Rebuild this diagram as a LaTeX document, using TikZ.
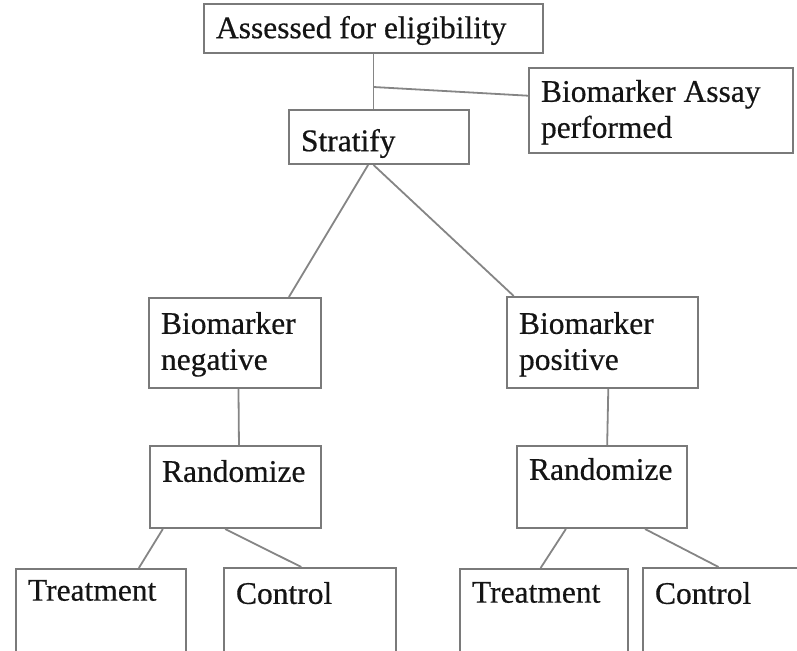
\documentclass[tikz,border=0pt]{standalone}
\usepackage{fontspec}
\setmainfont{Liberation Serif}
\newfontfamily\labelfont{Liberation Serif}[FakeBold=0.5]
\usetikzlibrary{calc}

% text block of a box: width, height, top padding, contents
\newcommand\boxtext[4]{\parbox[c][#2][t]{#1}{\vspace*{#3}\raggedright #4}}

\tikzset{
  box/.style={draw=black!52, line width=2pt, inner xsep=12pt, inner ysep=0pt,
              anchor=north west, text=black!92, font=\labelfont\fontsize{31.5}{36}\selectfont},
  link/.style={draw=black!48, line width=1.8pt},
}

\begin{document}
\begin{tikzpicture}[x=1pt,y=-1pt]
\useasboundingbox (0,0) rectangle (797,650);
\clip (0,0) rectangle (797,650);

% boxes
\node[box] (A)  at (203,3)   {\boxtext{315pt}{49pt}{12pt}{Assessed for eligibility}};
\node[box] (B)  at (528,67)  {\boxtext{240pt}{85pt}{12pt}{Biomarker Assay\\performed}};
\node[box] (S)  at (288,109) {\boxtext{156pt}{54pt}{19pt}{Stratify}};
\node[box] (N)  at (148,297) {\boxtext{148pt}{90pt}{14pt}{Biomarker\\negative}};
\node[box] (P)  at (506,296) {\boxtext{167pt}{91pt}{15pt}{Biomarker\\positive}};
\node[box] (RL) at (149,445) {\boxtext{147pt}{82pt}{14pt}{Randomize}};
\node[box] (RR) at (516,445) {\boxtext{146pt}{82pt}{12pt}{Randomize}};
\node[box] (TL) at (15,568)  {\boxtext{146pt}{100pt}{11pt}{Treatment}};
\node[box] (CL) at (223,567) {\boxtext{148pt}{100pt}{14pt}{Control}};
\node[box] (TR) at (459,568) {\boxtext{144pt}{100pt}{13pt}{Treatment}};
\node[box] (CR) at (642,567) {\boxtext{144pt}{100pt}{14pt}{Control}};

% connectors
\coordinate (j) at ($(A.south)!0.6!(A.south |- S.north)$);
\draw[link] (A.south) -- (A.south |- S.north);
\draw[link] (j) -- ($(B.north west)!0.33!(B.south west)$);

\draw[link] ($(S.south west)!0.44!(S.south east)$) -- ($(N.north west)!0.81!(N.north east)$);
\draw[link] ($(S.south west)!0.47!(S.south east)$) -- ($(P.north west)!0.04!(P.north east)$);

\draw[link] ($(N.south west)!0.52!(N.south east)$) -- ($(RL.north west)!0.52!(RL.north east)$);
\draw[link] ($(P.south west)!0.53!(P.south east)$) -- ($(RR.north west)!0.53!(RR.north east)$);

\draw[link] ($(RL.south west)!0.08!(RL.south east)$) -- ($(TL.north west)!0.72!(TL.north east)$);
\draw[link] ($(RL.south west)!0.44!(RL.south east)$) -- ($(CL.north west)!0.45!(CL.north east)$);
\draw[link] ($(RR.south west)!0.29!(RR.south east)$) -- ($(TR.north west)!0.48!(TR.north east)$);
\draw[link] ($(RR.south west)!0.75!(RR.south east)$) -- ($(CR.north west)!0.45!(CR.north east)$);
\end{tikzpicture}
\end{document}
